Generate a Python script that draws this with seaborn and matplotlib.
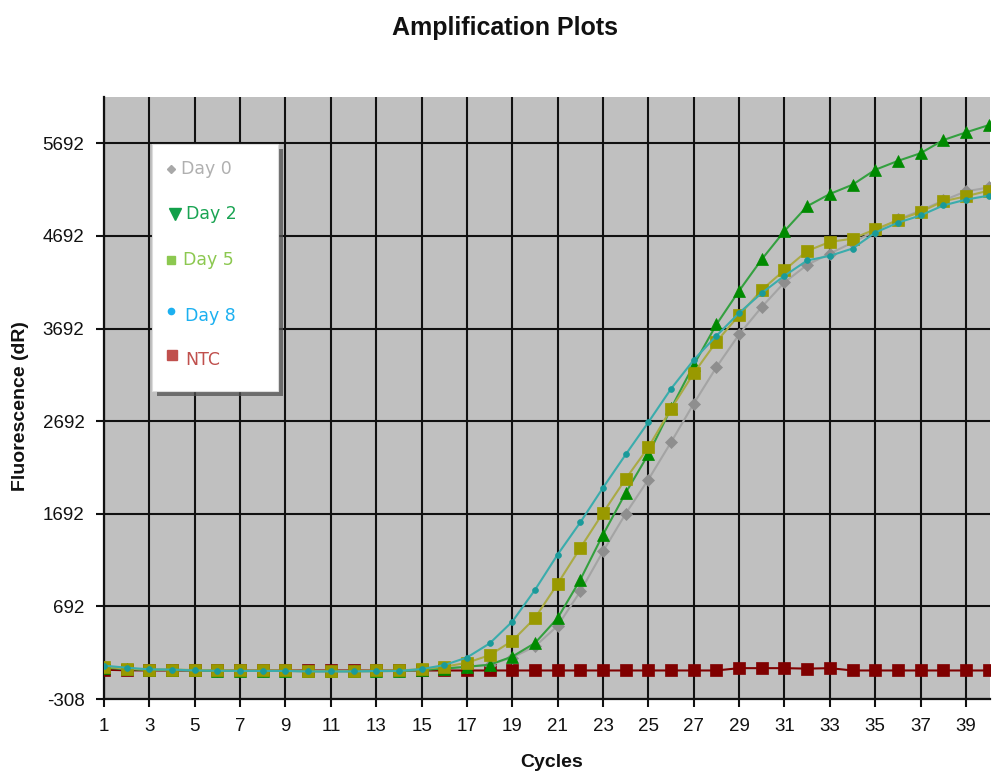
import numpy as np
import pandas as pd
import matplotlib
matplotlib.use("Agg")
import matplotlib.pyplot as plt
import seaborn as sns
from matplotlib.lines import Line2D
from matplotlib.patches import Rectangle

# ---------------- data ----------------
cycles = list(range(1, 41))
day0 = [35, 20, 10, 8, 2, -3, -3, -5, -5, -8, -8, -8, -5, -5, 8, 25, 40, 62, 140, 260,
        483, 854, 1286, 1694, 2062, 2465, 2882, 3275, 3629, 3925,
        4191, 4380, 4502, 4620, 4745, 4870, 4965, 5075, 5173, 5215]
day2 = [30, 15, 5, 5, 0, -3, -5, -5, -5, -8, -8, -8, -8, -5, 5, 20, 40, 62, 150, 296,
        566, 981, 1467, 1918, 2335, 2830, 3300, 3736, 4100, 4440,
        4745, 5013, 5145, 5245, 5406, 5502, 5585, 5727, 5810, 5888]
day5 = [40, 20, 10, 10, 5, 2, 0, 0, 0, -5, -5, -5, 0, 0, 15, 40, 83, 165, 320, 566,
        937, 1323, 1702, 2069, 2410, 2825, 3210, 3550, 3836, 4110,
        4323, 4530, 4627, 4663, 4763, 4862, 4952, 5066, 5120, 5181]
day8 = [52, 30, 12, 10, 0, -3, -5, -5, -5, -10, -10, -10, -5, -5, 15, 58, 140, 292, 528, 870,
        1252, 1600, 1974, 2332, 2681, 3042, 3353, 3614, 3860, 4076,
        4262, 4427, 4477, 4556, 4728, 4835, 4913, 5021, 5084, 5127]
ntc = [8, 2, 0, 0, 0, 0, 0, 0, 0, 0, 0, 0, 0, 0, 0, 0, 0, 0, 0, 0,
       0, 0, 0, 0, 0, 0, 0, 0, 25, 25, 25, 20, 25, 0, 0, 0, 0, 0, 0, 0]

series_names = ["NTC", "Day 0", "Day 2", "Day 5", "Day 8"]
series_values = [ntc, day0, day2, day5, day8]

y_ticks = [-308, 692, 1692, 2692, 3692, 4692, 5692]
x_ticks = list(range(1, 40, 2))

df = pd.concat(
    [pd.DataFrame({"Cycle": cycles, "Fluorescence": v, "Series": n})
     for n, v in zip(series_names, series_values)],
    ignore_index=True)

# ---------------- style ----------------
sns.set_theme(style="white")
plt.rcParams['font.family'] = ['Liberation Sans', 'DejaVu Sans']

W, H = 992, 771
fig = plt.figure(figsize=(W / 100, H / 100), dpi=100)
fig.patch.set_facecolor("white")

ax = fig.add_axes([104 / W, (H - 699) / H, 886 / W, 602 / H])
ax.set_facecolor("#c0c0c0")

styles = {
    "NTC":   dict(line="#800000", marker="s", mc="#800000", ms=8.3, lw=1.5),
    "Day 0": dict(line="#a4a4a4", marker="D", mc="#8e8e8e", ms=6.5, lw=1.5),
    "Day 2": dict(line="#34a040", marker="^", mc="#008a00", ms=8.8, lw=1.5),
    "Day 5": dict(line="#aaaa44", marker="s", mc="#999900", ms=8.3, lw=1.5),
    "Day 8": dict(line="#3aacac", marker="o", mc="#1a9a9a", ms=4.2, lw=1.5),
}

for z, name in enumerate(series_names):
    st = styles[name]
    sub = df[df["Series"] == name]
    sns.lineplot(data=sub, x="Cycle", y="Fluorescence", ax=ax, color=st["line"],
                 linewidth=st["lw"], marker=st["marker"], markersize=st["ms"],
                 markerfacecolor=st["mc"], markeredgecolor=st["mc"],
                 markeredgewidth=0.5, errorbar=None, legend=False,
                 zorder=3 + z, clip_on=True)

ax.set_xlim(1, 40.06)
ax.set_ylim(-308, 6192)
ax.set_xticks(x_ticks)
ax.set_xticklabels([str(t) for t in x_ticks])
ax.set_yticks(y_ticks)
ax.set_yticklabels([str(t) for t in y_ticks])
ax.set_axisbelow(True)
ax.grid(True, color="#111111", linewidth=1.5)

for s in ["top", "right"]:
    ax.spines[s].set_visible(False)
for s in ["left", "bottom"]:
    ax.spines[s].set_visible(True)
    ax.spines[s].set_color("#111111")
    ax.spines[s].set_linewidth(1.6)

ax.tick_params(axis="both", which="major", direction="out", length=6, width=1.5,
               color="#111111", labelsize=13.5, labelcolor="#111111", pad=8,
               left=True, bottom=True)
ax.set_xlabel("")
ax.set_ylabel("")


def fx(x):
    return x / W


def fy(y):
    return 1 - y / H


# titles / axis labels
fig.text(fx(505), fy(34.5), "Amplification Plots", ha="center", va="baseline",
         fontsize=18, fontweight="bold", color="#111111")
fig.text(fx(552), fy(767), "Cycles", ha="center", va="baseline",
         fontsize=14, fontweight="bold", color="#111111")
fig.text(fx(21), fy(406), "Fluorescence (dR)", ha="center", va="center",
         rotation=90, fontsize=14, fontweight="bold", color="#111111")

# legend box with shadow
lx0, lx1, ly0, ly1 = 152, 278, 144, 391
fig.patches.append(Rectangle((fx(lx0 + 5), fy(ly1 + 5)), (lx1 - lx0) / W, (ly1 - ly0) / H,
                             transform=fig.transFigure, facecolor="#505050",
                             edgecolor="none", alpha=0.75, zorder=10))
fig.patches.append(Rectangle((fx(lx0), fy(ly1)), (lx1 - lx0) / W, (ly1 - ly0) / H,
                             transform=fig.transFigure, facecolor="white",
                             edgecolor="#dddddd", linewidth=0.8, zorder=11))

legend_items = [
    ("Day 0", "D", 4.5, "#a8a8a8", 171, 169, 181, "#b0b0b0"),
    ("Day 2", "v", 9.0, "#12a04a", 175, 214, 186, "#1aa453"),
    ("Day 5", "s", 5.5, "#8cc850", 171, 260, 183, "#8cc850"),
    ("Day 8", "o", 4.5, "#1cb0f0", 171, 311, 185, "#1cb0f0"),
    ("NTC",   "s", 7.5, "#c0504d", 172, 355, 185, "#c0504d"),
]
for label, mk, ms, mcol, mx, my, tx, tcol in legend_items:
    fig.add_artist(Line2D([fx(mx)], [fy(my)], transform=fig.transFigure,
                          marker=mk, markersize=ms, color=mcol, linestyle="none",
                          zorder=12))
    ty = my + 5 if label in ("Day 8", "NTC") else my
    fig.text(fx(tx), fy(ty), label, ha="left", va="center", fontsize=12.5,
             color=tcol, family=["DejaVu Sans"], zorder=12)

fig.savefig("out.png", dpi=100, facecolor="white")
